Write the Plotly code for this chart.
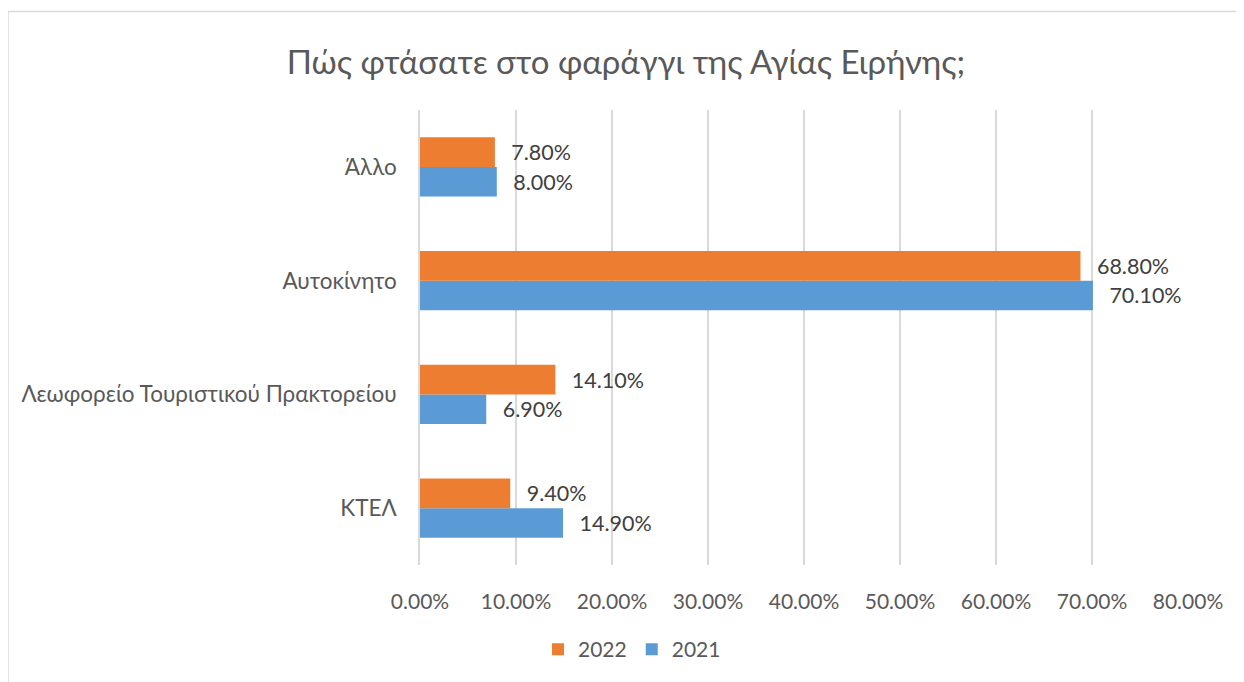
import plotly.graph_objects as go

categories = ["ΚΤΕΛ", "Λεωφορείο Τουριστικού Πρακτορείου", "Αυτοκίνητο", "Άλλο"]
values_2021 = [0.149, 0.069, 0.701, 0.080]
values_2022 = [0.094, 0.141, 0.688, 0.078]

# page body margin in the browser is 8px; work in screen pixels and offset
OFF = 8
W, H = 1244 - OFF, 682 - OFF
L, R, T, B = 420 - OFF, 56, 110 - OFF, 115
pw, ph = W - L - R, H - T - B

def px_x(p):
    return (p - OFF - L) / pw

def px_y(p):
    return (H - B - (p - OFF)) / ph

FONT = "Lato"
GREY = "#595959"
FS = 21

fig = go.Figure()
fig.add_trace(go.Bar(
    y=categories, x=values_2021, orientation="h", name="2021",
    marker=dict(color="#5B9BD5", line=dict(width=0)),
    texttemplate="\u2002\u2009%{x:.2%}", textposition="outside",
    textfont=dict(size=FS + 0.5, color="#404040", family=FONT), cliponaxis=False,
))
fig.add_trace(go.Bar(
    y=categories, x=values_2022, orientation="h", name="2022",
    marker=dict(color="#ED7D31", line=dict(width=0)),
    texttemplate="\u2002\u2009%{x:.2%}", textposition="outside",
    textfont=dict(size=FS + 0.5, color="#404040", family=FONT), cliponaxis=False,
))

fig.update_layout(
    width=W, height=H,
    margin=dict(l=L, r=R, t=T, b=B),
    paper_bgcolor="white", plot_bgcolor="white",
    barmode="group", bargap=0.48, bargroupgap=0,
    font=dict(family=FONT, color=GREY, size=FS),
    title=dict(text="Πώς φτάσατε στο φαράγγι της Αγίας Ειρήνης;",
               x=0.5, xanchor="center", y=1 - (62 - OFF) / H, yanchor="middle",
               font=dict(size=33, color=GREY, family=FONT)),
    xaxis=dict(range=[0, 0.8], dtick=0.1, tickformat=".2%",
               showgrid=True, gridcolor="#D9D9D9", gridwidth=1.5,
               zeroline=False, showline=False, ticks="",
               ticklabelstandoff=22, tickfont=dict(size=FS, color=GREY)),
    yaxis=dict(showgrid=False, zeroline=False, showline=True,
               linecolor="#D9D9D9", linewidth=1.5, ticks="",
               ticklabelstandoff=17, tickfont=dict(size=22.5, color=GREY)),
    legend=dict(orientation="h", x=px_x(632), xanchor="center",
                y=px_y(652), yanchor="middle", traceorder="reversed",
                itemwidth=30, font=dict(size=FS, color=GREY)),
    showlegend=True,
    shapes=[dict(type="rect", xref="paper", yref="paper",
                 x0=px_x(8), x1=px_x(1270), y0=px_y(11), y1=px_y(720),
                 line=dict(color="#D9D9D9", width=1.5), layer="below")],
)

fig.write_html("out.html")
